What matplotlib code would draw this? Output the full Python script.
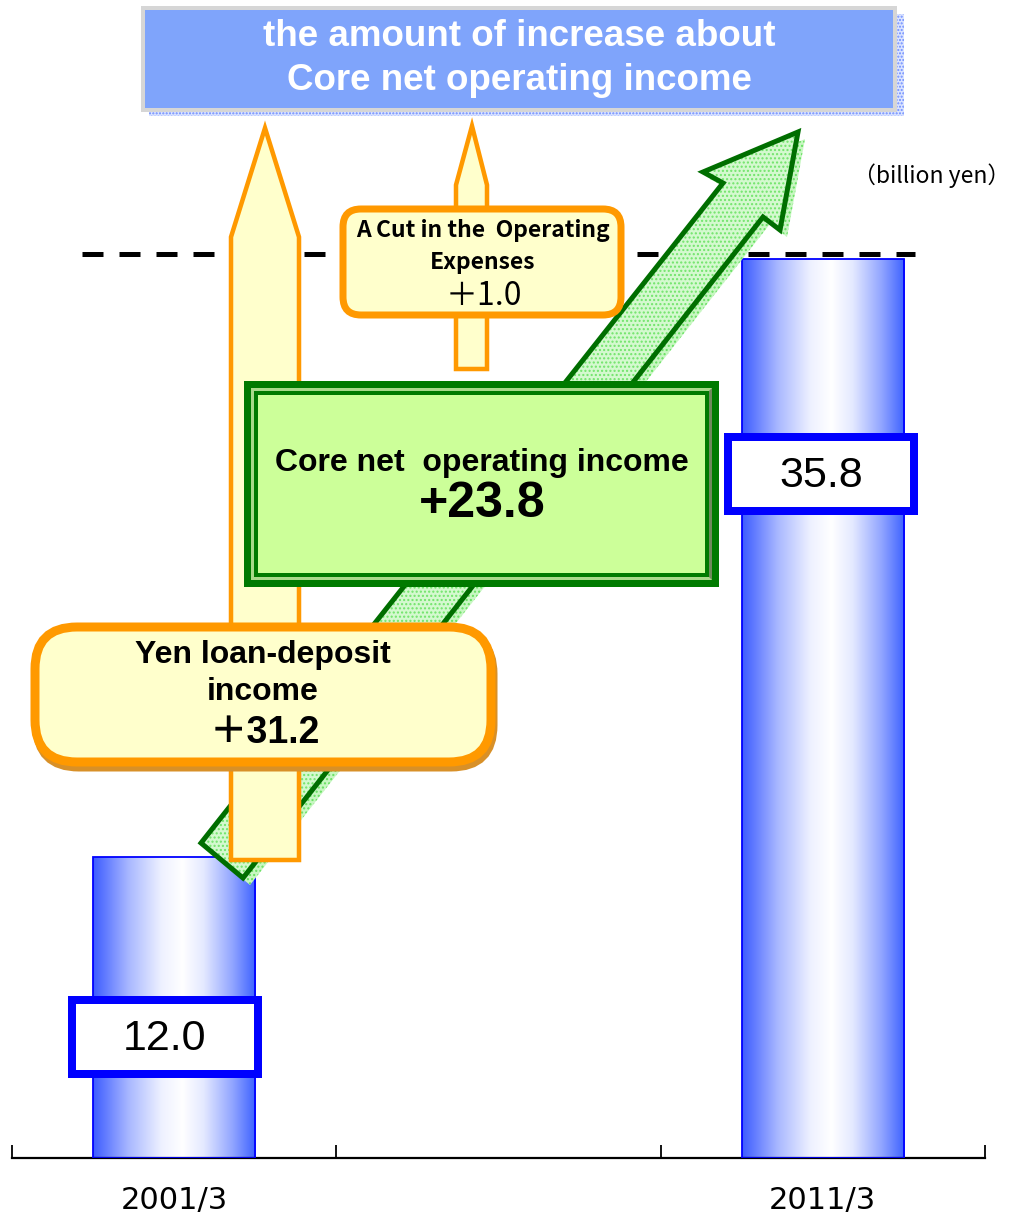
import numpy as np
import matplotlib
matplotlib.use('Agg')
import matplotlib.pyplot as plt
from matplotlib.patches import Rectangle, FancyBboxPatch, Polygon
from matplotlib.colors import LinearSegmentedColormap
from matplotlib import font_manager

# Core net operating income (billion yen)
years = ['2001/3', '2011/3']
core_income = [12.0, 35.8]
slot_pos = [0, 2]
# breakdown of the increase
loan_deposit_gain = 31.2
expense_cut_gain = 1.0
core_gain = 23.8
ref_level = 36.0

W, H = 1014, 1213
PT = 0.72  # points per pixel at dpi 100

# narrow bold face for the banner if there is one
try:
    font_manager.findfont(font_manager.FontProperties(family='Liberation Sans Narrow'),
                          fallback_to_default=False)
    banner_font = 'Liberation Sans Narrow'
    banner_size = 30
except Exception:
    banner_font = 'Liberation Sans'
    banner_size = 26.5

fig = plt.figure(figsize=(W / 100, H / 100), dpi=100)
fig.patch.set_facecolor('white')

# bar axes: baseline at 1158 px, 25.1 px per billion yen
px_per_unit = 25.1
base_px = 1158
ax = fig.add_axes([12 / W, (H - base_px) / H, 973 / W, base_px / H])

cmap = LinearSegmentedColormap.from_list(
    'barshade',
    [(0.0, '#3d5cff'), (0.22, '#a9b8ff'), (0.42, '#eef1ff'), (0.55, '#ffffff'),
     (0.68, '#e4e9ff'), (0.86, '#90a4ff'), (1.0, '#3d62ff')])
grad = np.linspace(0, 1, 256).reshape(1, -1)

bars = ax.bar(slot_pos, core_income, width=0.5, facecolor='none',
              edgecolor='#0000ff', linewidth=1.3, zorder=3)
for b in bars:
    x0, w, h = b.get_x(), b.get_width(), b.get_height()
    im = ax.imshow(grad, extent=[x0, x0 + w, 0, h], cmap=cmap, aspect='auto',
                   interpolation='bicubic', zorder=2)
    im.set_clip_path(b)

ax.set_xlim(-0.5, 2.5)
ax.set_ylim(0, base_px / px_per_unit)
for s in ['top', 'left', 'right']:
    ax.spines[s].set_visible(False)
ax.spines['bottom'].set_linewidth(1.6)
ax.set_yticks([])
ax.set_xticks([-0.5, 0.5, 1.5, 2.5])
ax.set_xticklabels([])
ax.tick_params(axis='x', which='major', direction='in', length=9.4, width=1.3)
ax.set_xticks(slot_pos, minor=True)
ax.set_xticklabels(years, minor=True, fontsize=22, family='DejaVu Sans')
ax.tick_params(axis='x', which='minor', length=0, pad=20)
ax.patch.set_alpha(0)

# overlay in pixel units for the annotations
ov = fig.add_axes([0, 0, 1, 1])
ov.set_xlim(0, W)
ov.set_ylim(H, 0)
ov.axis('off')
ov.patch.set_alpha(0)

# dashed reference level
ref_px = base_px - ref_level * px_per_unit
ov.plot([82, 915], [ref_px, ref_px], color='black', lw=5 * PT,
        linestyle=(0, (4.2, 3.2)), solid_capstyle='butt', zorder=1)

# banner
ov.add_patch(Rectangle((149, 14), 755, 102, facecolor='#dbe4ff', edgecolor='#6d8cff',
                       hatch='.....', lw=0, zorder=2))
ov.add_patch(Rectangle((143, 8), 752, 102, facecolor='#7fa4fb', edgecolor='#d6d6d6',
                       lw=4 * PT, zorder=3))
ov.text(519, 37, 'the amount of increase about', ha='center', va='center', color='white',
        fontsize=banner_size, fontweight='bold', family=banner_font, zorder=4)
ov.text(519, 81, 'Core net operating income', ha='center', va='center', color='white',
        fontsize=banner_size, fontweight='bold', family=banner_font, zorder=4)

ov.text(853, 176, '（billion yen）', ha='left', va='center', fontsize=16.5,
        family=['Noto Sans CJK JP', 'DejaVu Sans'], zorder=4)

# green diagonal arrow: core net operating income
arrow_pts = np.array([(201, 843), (723, 183), (703, 172), (798, 132),
                      (780, 230), (763, 217), (243, 878)])
ov.add_patch(Polygon(arrow_pts + [7, 7], closed=True, facecolor='#c8f7c2',
                     edgecolor='#66e060', hatch='....', lw=0, zorder=5))
ov.add_patch(Polygon(arrow_pts, closed=True, facecolor='#d4f9cf',
                     edgecolor='#70e46a', hatch='....', lw=0, zorder=6))
ov.add_patch(Polygon(arrow_pts, closed=True, facecolor='none', edgecolor='#006e00',
                     lw=5 * PT, joinstyle='miter', zorder=7))

# orange arrows: loan-deposit income and cut in expenses
big_up = [(231, 860), (299, 860), (299, 237), (265, 128), (231, 237)]
small_up = [(456, 369), (487, 369), (487, 185), (472, 126), (456, 185)]
for pts in (big_up, small_up):
    ov.add_patch(Polygon(pts, closed=True, facecolor='#ffffcc', edgecolor='#ff9900',
                         lw=4.5 * PT, joinstyle='miter', zorder=8))

# expense cut box
ov.add_patch(FancyBboxPatch((343, 209), 278, 106, boxstyle='round,pad=0,rounding_size=18',
                            facecolor='#ffffcc', edgecolor='#ff9900', lw=7 * PT, zorder=9))
cjk = ['Noto Sans CJK JP', 'DejaVu Sans']
ov.text(483, 231, 'A Cut in the  Operating', ha='center', va='center', fontsize=16.5,
        fontweight='bold', family=cjk, zorder=10)
ov.text(483, 263, 'Expenses', ha='center', va='center', fontsize=16.5,
        fontweight='bold', family=cjk, zorder=10)
ov.text(484, 296, f'＋{expense_cut_gain:.1f}', ha='center', va='center', fontsize=23,
        family=cjk, zorder=10)

# green framed box
gx0, gy0, gx1, gy1 = 244, 381, 719, 587
ov.add_patch(Rectangle((gx0, gy0), gx1 - gx0, gy1 - gy0, facecolor='#007a00', lw=0, zorder=11))
ov.add_patch(Rectangle((gx0 + 7, gy0 + 7), gx1 - gx0 - 14, gy1 - gy0 - 14,
                       facecolor='#a9d98a', lw=0, zorder=12))
ov.add_patch(Polygon([(gx1 - 7, gy0 + 7), (gx1 - 7, gy1 - 7), (gx1 - 12, gy1 - 12),
                      (gx1 - 12, gy0 + 12)], closed=True, facecolor='#6f8a5c', lw=0, zorder=13))
ov.add_patch(Rectangle((gx0 + 12, gy0 + 12), gx1 - gx0 - 24, gy1 - gy0 - 24,
                       facecolor='#ccff99', edgecolor='#007a00', lw=4 * PT, zorder=14))
ov.text(482, 463, 'Core net  operating income', ha='center', va='center', fontsize=23,
        fontweight='bold', family='Liberation Sans', zorder=15)
ov.text(482, 504, f'+{core_gain:.1f}', ha='center', va='center', fontsize=36,
        fontweight='bold', family='Liberation Sans', zorder=15)

# yen loan-deposit box
ov.add_patch(FancyBboxPatch((37, 632), 456, 135, boxstyle='round,pad=0,rounding_size=42',
                            facecolor='#d89028', edgecolor='#d89028', lw=9 * PT, zorder=16))
ov.add_patch(FancyBboxPatch((35, 627), 456, 135, boxstyle='round,pad=0,rounding_size=42',
                            facecolor='#ffffcc', edgecolor='#ff9900', lw=9 * PT, zorder=17))
ov.text(263, 655, 'Yen loan-deposit', ha='center', va='center', fontsize=23,
        fontweight='bold', family='Liberation Sans', zorder=18)
ov.text(263, 692, 'income', ha='center', va='center', fontsize=23,
        fontweight='bold', family='Liberation Sans', zorder=18)
ov.text(265, 733, f'＋{loan_deposit_gain:.1f}', ha='center', va='center', fontsize=27,
        fontweight='bold', family=['Liberation Sans', 'Noto Sans CJK JP'], zorder=18)

# value boxes on the bars
label_boxes = [(165, 1037), (821, 474)]
for (cx, cy), v in zip(label_boxes, core_income):
    ov.add_patch(Rectangle((cx - 93, cy - 37), 186, 74, facecolor='white',
                           edgecolor='#0000ff', lw=8 * PT, zorder=19))
    ov.text(cx, cy + 2, f'{v:.1f}', ha='center', va='center', fontsize=31,
            family='Liberation Sans', zorder=20)

fig.savefig('out.png', dpi=100)
